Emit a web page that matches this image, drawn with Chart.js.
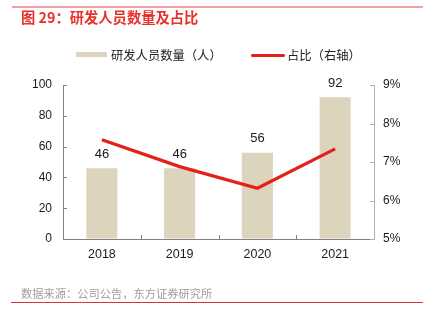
<!DOCTYPE html>
<html>
<head>
<meta charset="utf-8">
<script src="https://cdn.jsdelivr.net/npm/chart.js@4/dist/chart.umd.min.js"></script>
<style>
  html, body { margin: 0; padding: 0; background: #fff; }
  #wrap { position: relative; width: 424px; height: 321px; overflow: hidden; }
  #c { position: absolute; left: 0; top: 0; }
  .abs { position: absolute; white-space: nowrap; }
  #topline { left: 12px; top: 6px; width: 411px; height: 1.5px; background: #f2a0a0; }
  #title { left: 21px; top: 8px; font: bold 14.3px "Noto Sans CJK SC", sans-serif; color: #e8312b; line-height: 18px; }
  #lg1box { left: 76px; top: 52px; width: 31px; height: 5px; background: #ddd4bd; }
  #lg1 { left: 111px; top: 46px; font: 12.3px "Noto Sans CJK SC", sans-serif; color: #222; line-height: 18px; }
  #lg2box { left: 251px; top: 53.5px; width: 34px; height: 3px; background: #e32119; border-radius: 1.5px; }
  #lg2 { left: 287px; top: 46px; font: 12.3px "Noto Sans CJK SC", sans-serif; color: #222; line-height: 18px; }
  #source { left: 21px; top: 285px; font: 11.25px "Noto Sans CJK SC", sans-serif; color: #9d9d9d; line-height: 16px; }
  #botline { left: 11px; top: 301.5px; width: 412px; height: 1.5px; background: #e4312d; }
</style>
</head>
<body>
<div id="wrap">
  <canvas id="c" width="424" height="321"></canvas>
  <div class="abs" id="topline"></div>
  <div class="abs" id="title">图 29：研发人员数量及占比</div>
  <div class="abs" id="lg1box"></div>
  <div class="abs" id="lg1">研发人员数量（人）</div>
  <div class="abs" id="lg2box"></div>
  <div class="abs" id="lg2">占比（右轴）</div>
  <div class="abs" id="source">数据来源：公司公告，东方证券研究所</div>
  <div class="abs" id="botline"></div>
</div>
<script>
const categories = ['2018', '2019', '2020', '2021'];
const staffCount = [46, 46, 56, 92];
const staffShare = [7.58, 6.88, 6.32, 7.34];
const leftTicks = [0, 20, 40, 60, 80, 100];
const rightTicks = [5, 6, 7, 8, 9];

const numFont = '"Liberation Sans", Arial, sans-serif';

const innerTicks = {
  id: 'innerTicks',
  afterDraw(chart) {
    const ctx = chart.ctx;
    const { x, y, y1 } = chart.scales;
    const area = chart.chartArea;
    ctx.save();
    ctx.lineWidth = 1;
    ctx.strokeStyle = '#808080';
    ctx.beginPath();
    leftTicks.forEach(v => {
      const py = Math.round(y.getPixelForValue(v)) + 0.5;
      ctx.moveTo(area.left, py); ctx.lineTo(area.left + 4, py);
    });
    for (let i = 0; i < categories.length - 1; i++) {
      const px = Math.round((x.getPixelForValue(i) + x.getPixelForValue(i + 1)) / 2) + 0.5;
      ctx.moveTo(px, area.bottom); ctx.lineTo(px, area.bottom - 4);
    }
    ctx.stroke();
    ctx.strokeStyle = '#b0b0b0';
    ctx.beginPath();
    rightTicks.forEach(v => {
      const py = Math.round(y1.getPixelForValue(v)) + 0.5;
      ctx.moveTo(area.right, py); ctx.lineTo(area.right - 4, py);
    });
    ctx.stroke();
    ctx.restore();
  }
};

const barLabels = {
  id: 'barLabels',
  afterDatasetsDraw(chart) {
    const ctx = chart.ctx;
    const meta = chart.getDatasetMeta(0);
    ctx.save();
    ctx.font = '13px ' + numFont;
    ctx.fillStyle = '#1a1a1a';
    ctx.textAlign = 'center';
    ctx.textBaseline = 'middle';
    meta.data.forEach((el, i) => {
      ctx.fillText(String(staffCount[i]), el.x, el.y - 14);
    });
    ctx.restore();
  }
};

new Chart(document.getElementById('c'), {
  data: {
    labels: categories,
    datasets: [
      {
        type: 'bar',
        label: '研发人员数量（人）',
        data: staffCount,
        yAxisID: 'y',
        backgroundColor: '#ddd4bd',
        categoryPercentage: 1,
        barPercentage: 0.4,
        order: 2
      },
      {
        type: 'line',
        label: '占比（右轴）',
        data: staffShare,
        yAxisID: 'y1',
        borderColor: '#e32119',
        borderWidth: 3.2,
        pointRadius: 0,
        tension: 0,
        order: 1
      }
    ]
  },
  options: {
    responsive: false,
    animation: false,
    events: [],
    layout: { padding: { top: 85, bottom: 52, left: 0, right: 0 } },
    plugins: { legend: { display: false }, tooltip: { enabled: false } },
    scales: {
      x: {
        grid: { display: true, drawOnChartArea: false, drawTicks: false },
        border: { display: true, color: '#808080', width: 1 },
        ticks: { font: { family: numFont, size: 12.5 }, color: '#1a1a1a', padding: 8, maxRotation: 0 },
        afterFit(s) { s.height = 30; }
      },
      y: {
        position: 'left',
        min: 0, max: 100,
        afterBuildTicks(s) { s.ticks = leftTicks.map(v => ({ value: v })); },
        grid: { display: true, drawOnChartArea: false, drawTicks: false },
        border: { display: true, color: '#808080', width: 1 },
        ticks: { font: { family: numFont, size: 12 }, color: '#1a1a1a', padding: 11 },
        afterFit(s) { s.width = 63; }
      },
      y1: {
        position: 'right',
        min: 5, max: 9,
        afterBuildTicks(s) { s.ticks = rightTicks.map(v => ({ value: v })); },
        grid: { display: true, drawOnChartArea: false, drawTicks: false },
        border: { display: true, color: '#b0b0b0', width: 1 },
        ticks: { font: { family: numFont, size: 12 }, color: '#1a1a1a', padding: 9, callback: v => v + '%' },
        afterFit(s) { s.width = 50; }
      }
    }
  },
  plugins: [innerTicks, barLabels]
});
</script>
</body>
</html>
